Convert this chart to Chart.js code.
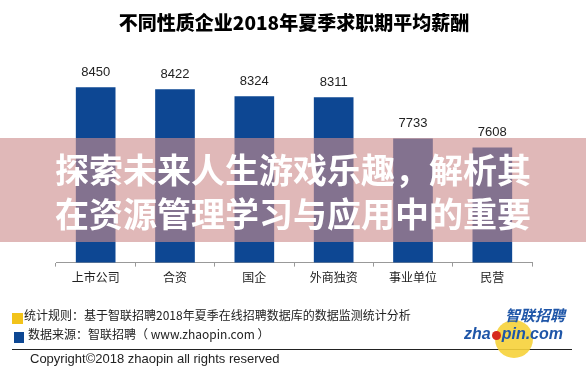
<!DOCTYPE html>
<html>
<head>
<meta charset="utf-8">
<script src="https://cdn.jsdelivr.net/npm/chart.js@4/dist/chart.umd.min.js"></script>
<style>
  html, body { margin: 0; padding: 0; background: #fff; }
  #wrap { position: relative; width: 586px; height: 380px; overflow: hidden; background: #fff;
          font-family: "Noto Sans CJK SC", "Liberation Sans", sans-serif; }
  #c { position: absolute; left: 0; top: 0; }
  .abs { position: absolute; white-space: nowrap; }
  #band { position: absolute; left: 0; top: 138px; width: 586px; height: 104px; background: rgba(205,140,140,0.62); }
  .bandtxt { position: absolute; left: 0; width: 586px; text-align: center; color: #fff;
             font: bold 34px/44px "Noto Sans CJK SC", sans-serif; white-space: nowrap; }
  .foot { font: 12px/16px "Noto Sans CJK SC", sans-serif; color: #222; }
</style>
</head>
<body>
<div id="wrap">
  <canvas id="c" width="586" height="380"></canvas>
  <div id="band"></div>
  <div class="bandtxt" style="top:147px;">探索未来人生游戏乐趣，解析其</div>
  <div class="bandtxt" style="top:191px;">在资源管理学习与应用中的重要</div>

  <div class="abs" style="left:12px;top:313px;width:11px;height:11px;background:#f2c31a;"></div>
  <div class="abs foot" style="left:24px;top:307px;">统计规则：基于智联招聘2018年夏季在线招聘数据库的数据监测统计分析</div>
  <div class="abs" style="left:14px;top:332px;width:10px;height:11px;background:#0d4793;"></div>
  <div class="abs foot" style="left:28px;top:326px;">数据来源：智联招聘（ www.zhaopin.com ）</div>
  <div class="abs" style="left:12px;top:349px;width:560px;height:1px;background:#222;"></div>
  <div class="abs" style="left:30px;top:351px;font:13px/16px 'Liberation Sans',sans-serif;color:#222;">Copyright©2018 zhaopin all rights reserved</div>

  <div class="abs" style="left:495px;top:320px;width:38px;height:38px;border-radius:50%;background:#f6d23a;opacity:0.9;"></div>
  <div class="abs" style="left:505px;top:306px;font:italic bold 15px/18px 'Noto Sans CJK SC',sans-serif;color:#1f56a8;">智联招聘</div>
  <div class="abs" style="left:464px;top:325px;font:italic bold 16px/18px 'Liberation Sans',sans-serif;color:#1f56a8;">zha<span style="display:inline-block;width:9px;height:9px;border-radius:50%;background:#d62a1e;margin:0 1px 0 1px;vertical-align:-1px;"></span>pin.com</div>
</div>
<script>
const categories = ["上市公司", "合资", "国企", "外商独资", "事业单位", "民营"];
const salaries = [8450, 8422, 8324, 8311, 7733, 7608];
const titleText = "不同性质企业2018年夏季求职期平均薪酬";
const yMin = 6000;
const yMax = 9000;

const valueLabels = {
  id: 'valueLabels',
  afterDatasetsDraw(chart) {
    const ctx = chart.ctx;
    const meta = chart.getDatasetMeta(0);
    ctx.save();
    ctx.font = '13px "Liberation Sans", sans-serif';
    ctx.fillStyle = '#222';
    ctx.textAlign = 'center';
    ctx.textBaseline = 'middle';
    meta.data.forEach((bar, i) => {
      ctx.fillText(String(chart.data.datasets[0].data[i]), bar.x, bar.y - 15);
    });
    ctx.restore();
  }
};

new Chart(document.getElementById('c'), {
  type: 'bar',
  data: {
    labels: categories,
    datasets: [{
      data: salaries,
      backgroundColor: '#0d4793',
      borderWidth: 0,
      barPercentage: 0.5,
      categoryPercentage: 1.0
    }]
  },
  options: {
    responsive: false,
    devicePixelRatio: 1,
    animation: false,
    layout: { padding: { left: 56, right: 54, top: 0, bottom: 91 } },
    plugins: {
      legend: { display: false },
      tooltip: { enabled: false },
      title: {
        display: true,
        text: titleText,
        color: '#000',
        font: { family: '"Noto Sans CJK SC", sans-serif', size: 19, weight: '900' },
        padding: { top: 11, bottom: 14 }
      }
    },
    scales: {
      y: { display: false, min: yMin, max: yMax },
      x: {
        grid: { display: true, drawOnChartArea: false, drawTicks: true, tickLength: 4, color: '#999', offset: true },
        border: { display: true, color: '#999' },
        ticks: { color: '#222', padding: 4, font: { family: '"Noto Sans CJK SC", sans-serif', size: 12 } }
      }
    }
  },
  plugins: [valueLabels]
});
</script>
</body>
</html>
